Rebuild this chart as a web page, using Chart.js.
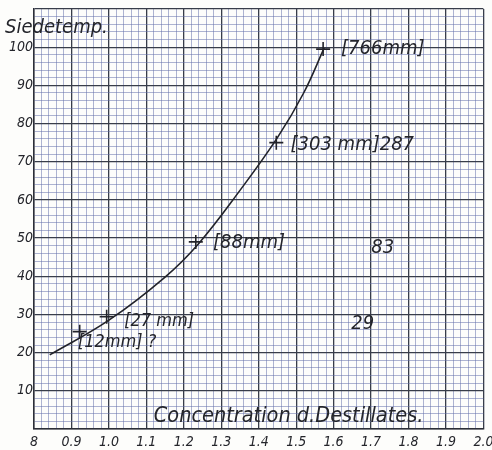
<!DOCTYPE html>
<html>
<head>
<meta charset="utf-8">
<script src="https://cdn.jsdelivr.net/npm/chart.js@4.4.0/dist/chart.umd.min.js"></script>
<style>
  html, body { margin: 0; padding: 0; background: #ffffff; }
  #wrap { position: relative; width: 492px; height: 450px; }
</style>
</head>
<body>
<div id="wrap"><canvas id="chart"></canvas></div>
<script>
// Siedetemperatur gegen Concentration des Destillates
const curveX = [0.842, 1.0, 1.15, 1.24, 1.35, 1.45, 1.52, 1.575];
const curveY = [19.4, 28.5, 39.8, 48.6, 62.5, 76.3, 88.0, 99.8];

// measured points (crosses)
const pointX = [0.922, 0.994, 1.232, 1.447, 1.572];
const pointY = [25.5, 29.4, 49.0, 75.0, 99.5];

// hand-written notes next to the points
const noteText = ['[766mm]', '[303 mm]287', '[88mm]', '83', '[27 mm]', '[12mm] ?', '29'];
const noteX = [1.620, 1.485, 1.278, 1.731, 1.041, 0.917, 1.678];
const noteY = [99.5, 74.5, 48.8, 47.5, 28.1, 22.8, 27.6];
const noteAlign = ['left', 'left', 'left', 'center', 'left', 'left', 'center'];

// tick labels as written on the sheet
const xTickLabels = ['8', '0.9', '1.0', '1.1', '1.2', '1.3', '1.4', '1.5', '1.6', '1.7', '1.8', '1.9', '2.0'];
const yTickLabels = ['10', '20', '30', '40', '50', '60', '70', '80', '90', '100'];

const yTitle = 'Siedetemp.';
const xTitle = 'Concentration d.Destillates.';

const FACE = '"DejaVu Sans Condensed", "DejaVu Sans", sans-serif';
const INK = '#24252b';

// graph-paper look
const paperPlugin = {
  id: 'paper',
  beforeDraw(chart) {
    const ctx = chart.ctx;
    ctx.save();
    ctx.fillStyle = '#fdfdfb';
    ctx.fillRect(0, 0, chart.width, chart.height);
    ctx.restore();
  }
};

const notesPlugin = {
  id: 'notes',
  afterDatasetsDraw(chart) {
    const ctx = chart.ctx;
    const xs = chart.scales.x, ys = chart.scales.y;
    const area = chart.chartArea;
    ctx.save();
    ctx.fillStyle = INK;
    ctx.textBaseline = 'middle';
    noteText.forEach((t, i) => {
      // the two lowest notes are written a little smaller
      ctx.font = 'italic ' + (i === 4 || i === 5 ? 18 : 20) + 'px ' + FACE;
      ctx.textAlign = noteAlign[i];
      ctx.fillText(t, xs.getPixelForValue(noteX[i]), ys.getPixelForValue(noteY[i]));
    });

    // axis captions
    ctx.textAlign = 'left';
    ctx.textBaseline = 'alphabetic';
    ctx.font = 'italic 20px ' + FACE;
    ctx.fillText(yTitle, 5, area.top + 24);
    ctx.font = 'italic 21.5px ' + FACE;
    ctx.fillText(xTitle, xs.getPixelForValue(1.12), area.bottom - 7);
    ctx.restore();
  }
};

function isMajor(v, step) {
  const r = Math.round(v / step * 1000) / 1000;
  return Math.abs(r - Math.round(r)) < 1e-6;
}

const MINOR = 'rgba(100,112,170,0.52)';
const MAJOR = '#383d4a';

new Chart(document.getElementById('chart'), {
  type: 'scatter',
  data: {
    datasets: [
      {
        type: 'line',
        label: 'curve',
        data: curveX.map((x, i) => ({ x, y: curveY[i] })),
        borderColor: '#22232a',
        borderWidth: 1.6,
        pointRadius: 0,
        tension: 0.4,
        fill: false
      },
      {
        label: 'points',
        data: pointX.map((x, i) => ({ x, y: pointY[i] })),
        pointStyle: 'cross',
        pointRadius: 7,
        borderColor: '#22232a',
        borderWidth: 1.6
      }
    ]
  },
  options: {
    responsive: true,
    maintainAspectRatio: false,
    animation: false,
    layout: { padding: { top: 9, right: 0, left: 0, bottom: 0 } },
    plugins: {
      legend: { display: false },
      tooltip: { enabled: false }
    },
    scales: {
      x: {
        type: 'linear',
        min: 0.8,
        max: 2.0,
        afterFit(s) { s.height = 21; s.paddingLeft = 0; s.paddingRight = 0; },
        afterBuildTicks(s) {
          const t = [];
          for (let i = 0; i <= 60; i++) t.push({ value: 0.8 + i * 0.02 });
          s.ticks = t;
        },
        ticks: {
          autoSkip: false,
          maxRotation: 0,
          padding: 5,
          color: INK,
          font: { family: FACE, size: 14, style: 'italic' },
          callback(v) {
            if (!isMajor(v, 0.1)) return '';
            const i = Math.round((v - 0.8) * 10);
            return xTickLabels[i];
          }
        },
        grid: {
          drawTicks: false,
          color: c => isMajor(c.tick.value, 0.1) ? MAJOR : MINOR,
          lineWidth: c => isMajor(c.tick.value, 0.1) ? 1.3 : 1
        },
        border: { color: '#2c2f38', width: 1.5 }
      },
      y: {
        type: 'linear',
        min: 0,
        max: 110,
        afterFit(s) { s.width = 34; s.paddingTop = 0; s.paddingBottom = 0; },
        afterBuildTicks(s) {
          const t = [];
          for (let v = 0; v <= 110; v += 2) t.push({ value: v });
          s.ticks = t;
        },
        ticks: {
          autoSkip: false,
          padding: 1,
          color: INK,
          font: { family: FACE, size: 14, style: 'italic' },
          callback(v) {
            if (v % 10 !== 0) return '';
            const i = v / 10 - 1;
            return yTickLabels[i] || '';
          }
        },
        grid: {
          drawTicks: false,
          color: c => c.tick.value % 10 === 0 ? MAJOR : MINOR,
          lineWidth: c => c.tick.value % 10 === 0 ? 1.3 : 1
        },
        border: { color: '#2c2f38', width: 1.5 }
      }
    }
  },
  plugins: [paperPlugin, notesPlugin]
});
</script>
</body>
</html>
